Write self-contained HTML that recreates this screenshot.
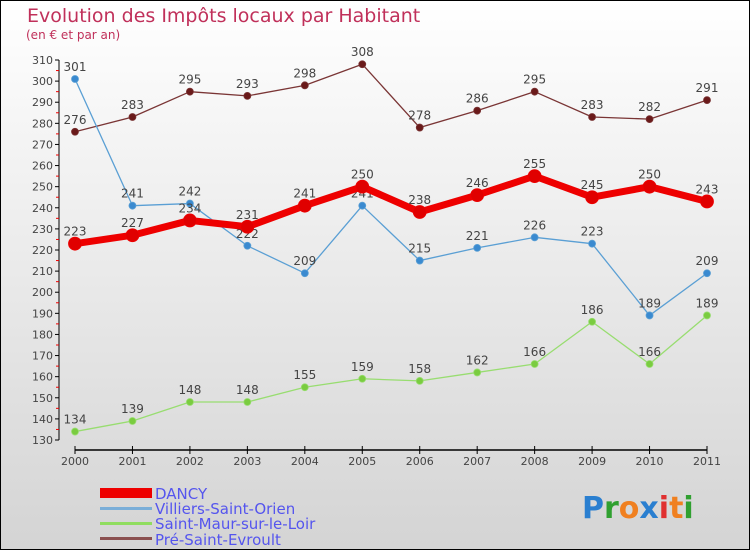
<!DOCTYPE html>
<html><head><meta charset="utf-8"><style>
body{margin:0;}
svg{display:block;font-family:"DejaVu Sans","Liberation Sans",sans-serif;}
</style></head><body>
<svg id="chart" width="750" height="550" viewBox="0 0 750 550">
<defs><linearGradient id="bg" x1="0" y1="0" x2="0" y2="1"><stop offset="0" stop-color="#ffffff"/><stop offset="1" stop-color="#d4d4d4"/></linearGradient></defs>
<rect x="0.5" y="0.5" width="749" height="549" fill="url(#bg)" stroke="#000"/>
<text x="27" y="22" font-size="19" fill="#c0305a">Evolution des Impôts locaux par Habitant</text>
<text x="26" y="39" font-size="12" fill="#c0305a">(en € et par an)</text>
<g id="axes"></g>
<g id="series"></g>
<g id="legend">
<rect x="100" y="488" width="52" height="10" fill="#ee0000"/>
<text x="155" y="499" font-size="15" fill="#5555ee">DANCY</text>
<rect x="100" y="507" width="52" height="3" fill="#7aaed8"/>
<text x="155" y="514" font-size="15" fill="#5555ee">Villiers-Saint-Orien</text>
<rect x="100" y="522" width="52" height="3" fill="#90dd60"/>
<text x="155" y="529" font-size="15" fill="#5555ee">Saint-Maur-sur-le-Loir</text>
<rect x="100" y="537" width="52" height="3" fill="#8a5050"/>
<text x="155" y="545" font-size="15" fill="#5555ee">Pré-Saint-Evroult</text>
</g>
<text x="582" y="518" font-size="30" font-weight="bold"><tspan fill="#2a7fd0">P</tspan><tspan fill="#30a030">r</tspan><tspan fill="#f08020">o</tspan><tspan fill="#2a7fd0">x</tspan><tspan fill="#e03030">i</tspan><tspan fill="#f08020">t</tspan><tspan fill="#30a030">i</tspan></text>
</svg>
<script>
const years=["2000","2001","2002","2003","2004","2005","2006","2007","2008","2009","2010","2011"];
const yTicks=[130,140,150,160,170,180,190,200,210,220,230,240,250,260,270,280,290,300,310];
const dancy=[223,227,234,231,241,250,238,246,255,245,250,243];
const villiers=[301,241,242,222,209,241,215,221,226,223,189,209];
const saintMaur=[134,139,148,148,155,159,158,162,166,186,166,189];
const pre=[276,283,295,293,298,308,278,286,295,283,282,291];
const NS="http://www.w3.org/2000/svg";
function xS(i){return 75+i*(707-75)/11;}
function yS(v){return 440-(v-130)*(380/180);}
function mk(tag,attrs,parent){const e=document.createElementNS(NS,tag);for(const k in attrs)e.setAttribute(k,attrs[k]);parent.appendChild(e);return e;}
const axes=document.getElementById('axes');
const yax=mk('line',{x1:59,y1:yS(310),x2:59,y2:yS(130),stroke:'#000'},axes);


yTicks.forEach(v=>{
 mk('line',{x1:55,y1:yS(v),x2:59,y2:yS(v),stroke:'#000'},axes);
 if(v<310)mk('line',{x1:56,y1:yS(v+5),x2:59,y2:yS(v+5),stroke:'#e00'},axes);
 const t=mk('text',{x:53,y:yS(v)+4,'font-size':11,'text-anchor':'end',fill:'#444'},axes);t.textContent=v;
 
 
});
const xax=mk('line',{x1:75,y1:450,x2:707,y2:450,stroke:'#000','stroke-width':1.5},axes);


years.forEach((y,i)=>{
 mk('line',{x1:xS(i),y1:446,x2:xS(i),y2:454,stroke:'#000'},axes);
 const t=mk('text',{x:xS(i),y:465,'font-size':11,'text-anchor':'middle',fill:'#444'},axes);t.textContent=y;
 
 
});
const series=document.getElementById('series');
function draw(data,name,color,dot,w,r,labelColor){
 const g=mk('g',{},series);
 
 
 const pl=mk('polyline',{points:data.map((v,i)=>xS(i)+','+yS(v)).join(' '),fill:'none',stroke:color,'stroke-width':w,'stroke-linejoin':'round'},g);
 
 
 data.forEach((v,i)=>{
  const c=mk('circle',{cx:xS(i),cy:yS(v),r:r,fill:dot,stroke:color,'stroke-width':0.8},g);
  
  
  const t=mk('text',{x:xS(i),y:yS(v)-8,'font-size':12,'text-anchor':'middle',fill:'#444'},g);t.textContent=v;
  
  
 });
}
draw(pre,'pre-saint-evroult','#7a3535','#6a1a1a',1.3,3.5);
draw(villiers,'villiers-saint-orien','#5a9fd4','#3a8ad0',1.3,3.5);
draw(saintMaur,'saint-maur-sur-le-loir','#98dd70','#7acc40',1.3,3.5);
draw(dancy,'dancy','#ee0000','#e00000',7,6.5);
</script>
</body></html>
